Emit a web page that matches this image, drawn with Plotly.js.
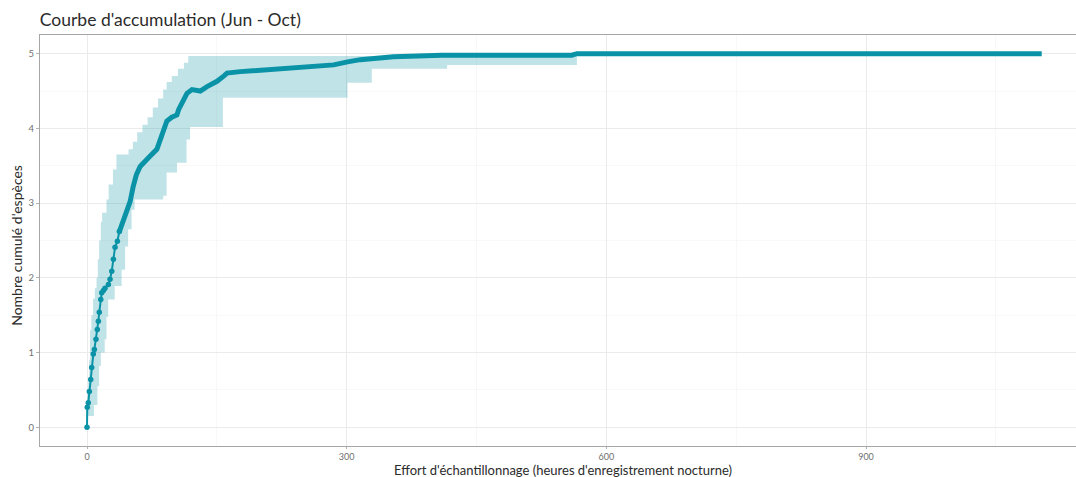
<!DOCTYPE html>
<html>
<head>
<meta charset="utf-8">
<script src="https://cdn.plot.ly/plotly-3.0.1.min.js"></script>
<style>
  html, body { margin: 0; padding: 0; background: #ffffff; }
  #chart { width: 1076px; height: 477px; }
</style>
</head>
<body>
<div id="chart"></div>
<script>
// Mean accumulation curve (hours of effort -> cumulative species)
const effortHours = [0, 0.3, 1.5, 2.7, 4.3, 5.4, 7.3, 8.5, 10.4, 11.9, 13.1, 14.2, 15.9, 17, 19, 20.8, 24.7, 26.6, 28.6, 30.5, 32.4, 35.1, 37.4, 40.2, 44, 47.8, 49.8,
  53.3, 57, 61.4, 67, 73, 80.7, 84.6, 88, 92.3, 98, 103.9, 105.8, 110, 115.5, 121.3, 130.9, 138.7, 150.2, 157.9, 161.8, 177.2, 212, 246.7, 285, 301, 316, 354, 400, 410, 560, 566, 1103];
const meanSpecies = [0, 0.27, 0.33, 0.48, 0.64, 0.8, 0.98, 1.04, 1.18, 1.31, 1.42, 1.54, 1.71, 1.80, 1.83, 1.86, 1.91, 1.98, 2.09, 2.25, 2.41, 2.49, 2.62, 2.71, 2.82, 2.91, 3.02,
  3.22, 3.38, 3.49, 3.55, 3.63, 3.72, 3.85, 4.0, 4.10, 4.15, 4.18, 4.25, 4.35, 4.47, 4.52, 4.50, 4.56, 4.63, 4.70, 4.74, 4.76, 4.79, 4.83, 4.85, 4.89, 4.92, 4.96, 4.97, 4.98, 4.98, 5, 5];

// Ribbon (step edges): x where each new value starts
const upperX = [0.5, 1.5, 2.5, 3.5, 5, 7, 9, 11, 12.5, 14, 16, 17.5, 22.5, 25, 30, 34, 48, 53, 58, 64, 70, 76, 82, 88, 92, 98, 105, 112, 117, 566, 1103];
const upperY = [0.45, 0.62, 0.9, 1.3, 1.5, 1.72, 1.86, 2.0, 2.25, 2.5, 2.75, 2.87, 3.05, 3.25, 3.45, 3.65, 3.72, 3.82, 3.95, 4.05, 4.15, 4.28, 4.4, 4.52, 4.62, 4.7, 4.8, 4.88, 4.97, 5, 5];
const lowerX = [0.5, 8, 12, 14, 16, 20.5, 22.5, 24.5, 32, 40, 44, 47.5, 51.5, 55, 88, 92, 104, 115, 119, 157, 301, 329, 416, 566, 1103];
const lowerY = [0.15, 0.3, 0.55, 0.82, 1.0, 1.18, 1.48, 1.71, 1.89, 2.11, 2.42, 2.65, 2.91, 3.05, 3.1, 3.41, 3.54, 3.85, 4.02, 4.41, 4.61, 4.8, 4.85, 5, 5];

const xTicks = [0, 300, 600, 900];
const yTicks = [0, 1, 2, 3, 4, 5];

const teal = '#0a93a6';
const ribbon = 'rgba(10,147,166,0.26)';

const earlyCut = 36;
const earlyX = effortHours.filter(v => v <= earlyCut + 4);
const earlyY = meanSpecies.slice(0, earlyX.length);
const lateIdx = effortHours.findIndex(v => v >= earlyCut);
const lateX = effortHours.slice(lateIdx);
const lateY = meanSpecies.slice(lateIdx);

const traces = [
  { x: lowerX, y: lowerY, type: 'scatter', mode: 'lines', line: { width: 0, shape: 'hv', color: ribbon }, hoverinfo: 'skip', showlegend: false },
  { x: upperX, y: upperY, type: 'scatter', mode: 'lines', fill: 'tonexty', fillcolor: ribbon, line: { width: 0, shape: 'hv', color: ribbon }, hoverinfo: 'skip', showlegend: false },
  { x: lateX, y: lateY, type: 'scatter', mode: 'lines', line: { width: 5, color: teal }, showlegend: false },
  { x: earlyX, y: earlyY, type: 'scatter', mode: 'lines+markers', line: { width: 2, color: teal }, marker: { size: 5.5, color: teal }, showlegend: false }
];

const fontFam = 'Lato, "Open Sans", sans-serif';

const layout = {
  width: 1076, height: 477,
  paper_bgcolor: '#ffffff', plot_bgcolor: '#ffffff',
  margin: { l: 40, r: 0, t: 35, b: 31 },
  font: { family: fontFam, color: '#333333' },
  title: {
    text: "Courbe d'accumulation (Jun - Oct)",
    font: { family: fontFam, size: 17.5, color: '#2b2b2b' },
    xref: 'container', yref: 'container', x: 0.037, xanchor: 'left', y: 0.958, yanchor: 'middle'
  },
  xaxis: {
    range: [-54.3, 1142.6],
    tickvals: xTicks, ticktext: xTicks.map(String),
    ticks: 'outside', ticklen: 2, tickcolor: '#b3b3b3', tickwidth: 1,
    tickfont: { family: fontFam, size: 9, color: '#707070' },
    showgrid: true, gridcolor: '#ebebeb', gridwidth: 1,
    minor: { tickvals: [150, 450, 750, 1050], showgrid: true, gridcolor: '#f4f4f4', gridwidth: 0.6, ticks: '' },
    showline: true, linecolor: '#a6a6a6', linewidth: 1, mirror: true,
    zeroline: false,
    automargin: false
  },
  yaxis: {
    range: [-0.25, 5.25],
    tickvals: yTicks, ticktext: yTicks.map(String),
    ticks: 'outside', ticklen: 3, tickcolor: '#b3b3b3', tickwidth: 1,
    tickfont: { family: fontFam, size: 9.5, color: '#707070' },
    showgrid: true, gridcolor: '#ebebeb', gridwidth: 1,
    minor: { tickvals: [0.5, 1.5, 2.5, 3.5, 4.5], showgrid: true, gridcolor: '#f4f4f4', gridwidth: 0.6, ticks: '' },
    showline: true, linecolor: '#a6a6a6', linewidth: 1, mirror: false,
    zeroline: false,
    automargin: false
  },
  annotations: [
    { text: "Effort d'échantillonnage (heures d'enregistrement nocturne)", xref: 'paper', yref: 'paper',
      x: 0.505, y: -0.0575, xanchor: 'center', yanchor: 'middle', showarrow: false,
      font: { family: fontFam, size: 13, color: '#2b2b2b' } },
    { text: "Nombre cumulé d'espèces", xref: 'paper', yref: 'paper', textangle: -90,
      x: -0.0222, y: 0.487, xanchor: 'center', yanchor: 'middle', showarrow: false,
      font: { family: fontFam, size: 14, color: '#2b2b2b' } }
  ]
};

Plotly.newPlot('chart', traces, layout, { displayModeBar: false, staticPlot: true });
</script>
</body>
</html>
